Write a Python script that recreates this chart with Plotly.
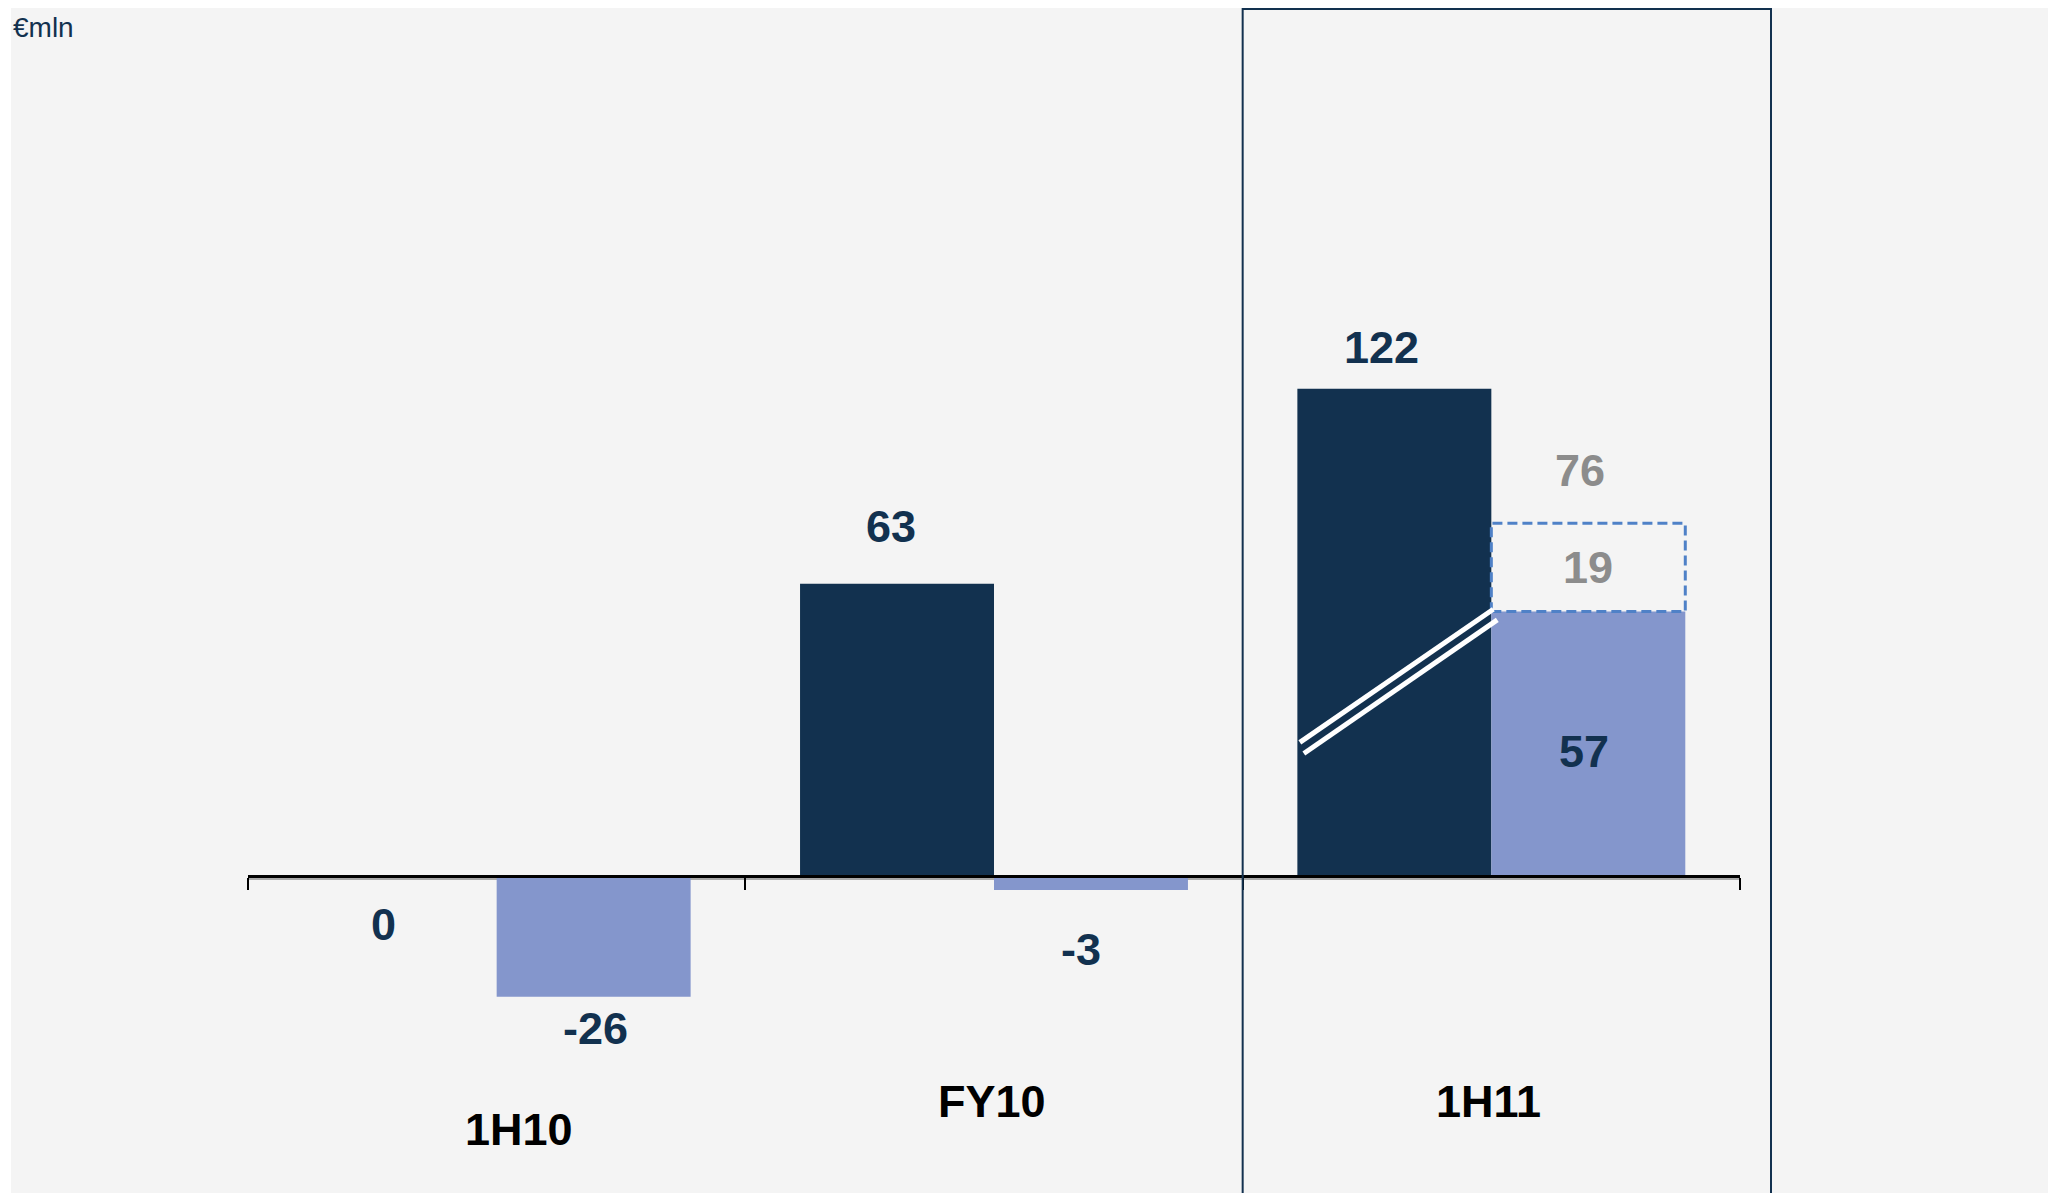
import plotly.graph_objects as go

# ---------------- data ----------------
categories = ["1H10", "FY10", "1H11"]
dark_values = [0, 63, 122]
light_values = [-26, -3, 57]
upside_values = [None, None, 19]      # dashed upside stacked on light bar
upside_totals = [None, None, 76]
broken_bar = [False, False, True]     # dark bar drawn with an axis break
unit_label = "€mln"

# ---------------- layout constants (figure pixels) ----------------
W, H = 2056, 1193
L, R = 240, 324
AXIS_PX = 868
PX_PER_UNIT = 4.64
BREAK_CUT = 17          # units hidden by the axis break
BW = 0.39               # bar width (category units)

NAVY = "#12314f"
LIGHT = "#8496cc"
GREY = "#8c8c8c"
DASH = "#4f81c7"
BG = "#f4f4f4"
FONT = "Liberation Sans, Arial, sans-serif"

pw = W - L - R
y_top = AXIS_PX / PX_PER_UNIT
y_bot = -(H - AXIS_PX) / PX_PER_UNIT
xs = list(range(len(categories)))

dark_display = [v - BREAK_CUT if b else v for v, b in zip(dark_values, broken_bar)]

fig = go.Figure()
fig.add_trace(go.Bar(x=xs, y=dark_display, offset=-BW, width=BW,
                     marker=dict(color=NAVY, line=dict(width=0)),
                     hoverinfo="skip", showlegend=False))
fig.add_trace(go.Bar(x=xs, y=light_values, offset=0, width=BW,
                     marker=dict(color=LIGHT, line=dict(width=0)),
                     hoverinfo="skip", showlegend=False))

shapes = []
# white page strip on the left
shapes.append(dict(type="rect", xref="paper", yref="paper", layer="above",
                   x0=-L / pw - 0.01, x1=(3 - L) / pw, y0=-0.01, y1=1.01,
                   fillcolor="white", line=dict(width=0)))
# soft shadow under the category axis
shapes.append(dict(type="line", xref="paper", yref="paper", layer="below",
                   x0=0, x1=1, y0=(H - AXIS_PX - 3) / H, y1=(H - AXIS_PX - 3) / H,
                   line=dict(color="#a8a8a8", width=2)))
# highlight frame around last period
shapes.append(dict(type="rect", xref="paper", yref="paper", layer="above",
                   x0=(1.5 + 0.5) / 3, x1=(1763 - L) / pw, y0=-0.05, y1=(H - 1) / H,
                   fillcolor="rgba(0,0,0,0)", line=dict(color=NAVY, width=2)))

# dashed upside box and axis-break marks
for i, (base, up) in enumerate(zip(light_values, upside_values)):
    if up is None:
        continue
    shapes.append(dict(type="rect", xref="x", yref="y", x0=i, x1=i + BW,
                       y0=base, y1=base + up, fillcolor="rgba(0,0,0,0)",
                       line=dict(color=DASH, width=3, dash="10px,5px")))
for i, b in enumerate(broken_bar):
    if not b:
        continue
    for lo, hi, dx in [(28.8, 57.5, 0.0), (26.4, 55.2, 0.008)]:
        shapes.append(dict(type="line", xref="x", yref="y",
                           x0=i - BW + 0.005 + dx, x1=i + 0.004 + dx, y0=lo, y1=hi,
                           line=dict(color="white", width=5)))

ann = []
def lab(x, y, text, color, xshift=0, yshift=0, size=45, bold=True):
    ann.append(dict(x=x, y=y, xref="x", yref="y", text=text, showarrow=False,
                    xanchor="center", yanchor="middle", xshift=xshift, yshift=yshift,
                    font=dict(family=FONT, size=size, color=color,
                              weight="bold" if bold else "normal")))

dark_dx = [-16, -6, -13]
dark_dy = [-48, 57, 41]
for i, (v, d) in enumerate(zip(dark_values, dark_display)):
    lab(i - BW / 2, d, str(v), NAVY, dark_dx[i], dark_dy[i])

light_dx = [2, -10, -4]
light_dy = [-32, -60, -8]
for i, v in enumerate(light_values):
    ypos = v / 2 if upside_values[i] is not None else v
    lab(i + BW / 2, ypos, str(v), NAVY, light_dx[i], light_dy[i])

for i, (up, tot) in enumerate(zip(upside_values, upside_totals)):
    if up is None:
        continue
    lab(i + BW / 2, light_values[i] + up / 2, str(up), GREY, 0, 0)
    lab(i + BW / 2, tot, str(tot), GREY, -8, 53)

cat_py = [1121, 1093, 1093]
cat_dx = [22, -2, -3]
for i, c in enumerate(categories):
    ann.append(dict(x=i, y=(H - cat_py[i]) / H, xref="x", yref="paper", text=c,
                    showarrow=False, xanchor="center", yanchor="middle", xshift=cat_dx[i],
                    font=dict(family=FONT, size=45, color="black", weight="bold")))

ann.append(dict(x=(3 - L) / pw, y=(H - 19) / H, xref="paper", yref="paper",
                text=unit_label, showarrow=False, xanchor="left", yanchor="middle",
                font=dict(family=FONT, size=28, color=NAVY)))

fig.update_layout(
    width=W, height=H, margin=dict(l=L, r=R, t=0, b=0),
    paper_bgcolor=BG, plot_bgcolor=BG, barmode="overlay",
    shapes=shapes, annotations=ann, showlegend=False,
    xaxis=dict(type="linear", range=[-0.5, 2.5], tickvals=[-0.5, 0.5, 1.5, 2.5],
               ticks="outside", ticklen=12, tickwidth=2, tickcolor="black",
               showline=True, linecolor="black", linewidth=3,
               showticklabels=False, showgrid=False, zeroline=False,
               anchor="free", position=(H - AXIS_PX) / H),
    yaxis=dict(range=[y_bot, y_top], visible=False, showgrid=False, zeroline=False),
)

fig.write_html("out.html")
